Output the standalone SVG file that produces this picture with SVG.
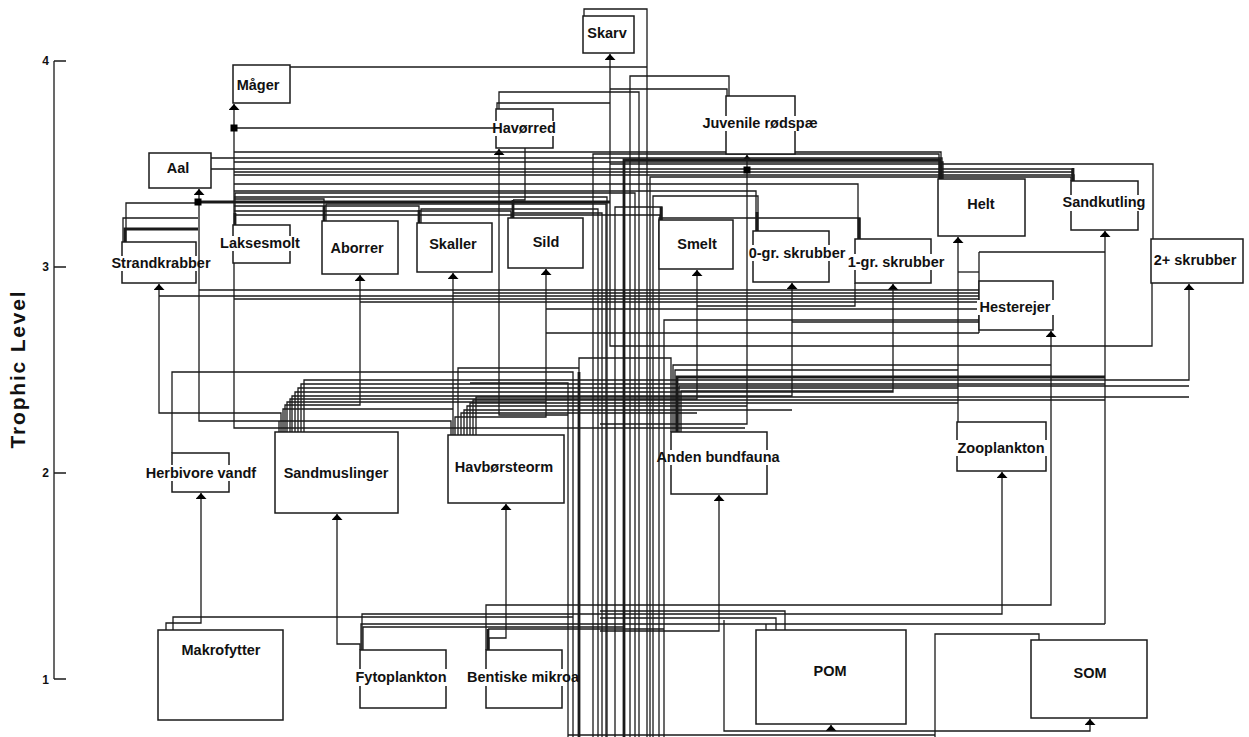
<svg xmlns="http://www.w3.org/2000/svg" width="1249" height="737" viewBox="0 0 1249 737">
<defs>
<style>
.c path{fill:none;stroke:#1a1a1a;stroke-width:1.3}
.c path.t{stroke-width:2.8}
.c path.a{marker-end:url(#ah)}
.n rect.b{fill:#fff;stroke:#1a1a1a;stroke-width:1.5}
.n rect.g{fill:#fff;stroke:none}
.n text{font-family:"Liberation Sans",Arial,sans-serif;font-weight:bold;font-size:14.5px;fill:#111;text-anchor:middle}
.ax path{fill:none;stroke:#1a1a1a;stroke-width:1.3}
.ax text{font-family:"Liberation Sans",Arial,sans-serif;font-weight:bold;fill:#111}
.sq{fill:#000}
</style>
<marker id="ah" markerUnits="userSpaceOnUse" markerWidth="6" markerHeight="11" viewBox="0 0 6 11" refX="6" refY="5.5" orient="auto">
<path d="M0,0 L6,5.5 L0,11 z" fill="#000"/>
</marker>
</defs>
<rect width="1249" height="737" fill="#fff"/>

<g id="axis" class="ax">
<path d="M54 61 V679 M54 61 H66 M54 267 H66 M54 473 H66 M54 679 H66"/>
<text x="49" y="65" font-size="12" text-anchor="end">4</text>
<text x="49" y="271" font-size="12" text-anchor="end">3</text>
<text x="49" y="477" font-size="12" text-anchor="end">2</text>
<text x="49" y="684" font-size="12" text-anchor="end">1</text>
<text transform="translate(25,369) rotate(-90)" font-size="21" letter-spacing="1.8" text-anchor="middle">Trophic Level</text>
</g>

<g id="connectors" class="c">
<!-- predator arrows -->
<path class="a" d="M1152 283 V346 H610 V54"/>
<path class="a" d="M745 428 H234 V104"/>
<path class="a" d="M451 435 V421 H199 V189"/>
<path class="a" d="M568 415 H499 V149"/>
<path class="a" d="M600 424 H747 V155"/>
<path class="a" d="M958 422 V237"/>
<path class="a" d="M1105 624 V231"/>
<path class="a" d="M304 432 V380 H1189 V284"/>
<path class="a" d="M281 432 V413 H159 V284"/>
<path class="a" d="M285 432 V405 H360 V275"/>
<path class="a" d="M453 435 V273"/>
<path class="a" d="M455 435 V417 H546 V269"/>
<path class="a" d="M290 432 V399 H697 V270"/>
<path class="a" d="M292 432 V396 H792 V283"/>
<path class="a" d="M295 432 V392 H893 V284"/>
<path class="a" d="M486 650 V605 H1051 V331"/>
<path class="a" d="M166 630 V623 H201 V493"/>
<path class="a" d="M360 650 V644 H337 V514"/>
<path class="a" d="M489 650 V638 H506 V504"/>
<path class="a" d="M600 631 H719 V495"/>
<path class="a" d="M362 650 V614 H1002 V472"/>
<path class="a" d="M831 731 V725"/>
<path class="a" d="M724 620 V731 H1090 V719"/>
<!-- top links -->
<path d="M584 16 V9 H647 V737"/>
<path d="M290 67 H647"/>
<path d="M234 128 H496"/>
<path d="M497 109 V103 H610"/>
<path d="M499 109 V92 H639 V737"/>
<path d="M727 96 V89 H610"/>
<path d="M729 96 V76 H630 V737"/>
<path d="M525 148 V200 H513"/>
<path class="t" d="M513 200 V218"/>
<path d="M234 152 H941 V179"/>
<path d="M211 158 H942 V179"/>
<path d="M234 162 H943 V179"/>
<path d="M211 169 H1072 V181"/>
<path d="M234 172 H1073 V181"/>
<path d="M234 175 H1074 V181"/>
<path d="M610 164 H1153 V239"/>
<path d="M593 737 V154 H939 V179"/>
<path class="t" d="M624 737 V160 H940 V179"/>
<path d="M1071 181 V177 H650 V737"/>
<path d="M234 184 H858 V239"/>
<path d="M234 191 H756 V231"/>
<path class="t" d="M235 225 V213"/>
<path d="M235 213 V193 H635 V737"/>
<path d="M234 197 H607 V737"/>
<path d="M324 221 V199 H234"/>
<path class="t" d="M324 221 V206"/>
<path class="t" d="M198 202 H610"/>
<path d="M326 221 V204 H606 V737"/>
<path d="M419 223 V206 H234"/>
<path class="t" d="M419 223 V210"/>
<path d="M421 223 V209 H598 V737"/>
<path d="M511 218 V211 H234"/>
<path d="M512 218 V213 H602 V737"/>
<path d="M662 220 V207 H615 V737"/>
<path class="t" d="M661 220 V207"/>
<path d="M660 220 V215 H234"/>
<path d="M758 231 V196 H653 V737"/>
<path class="t" d="M757 231 V212"/>
<path d="M860 239 V218 H659 V737"/>
<path class="t" d="M859 239 V218"/>
<path d="M126 242 V203 H198"/>
<path d="M123 242 V218 H198"/>
<path class="t" d="M125 242 V229 H198"/>
<path class="t" d="M941 179 V162"/>
<path class="t" d="M1073 181 V168"/>
<!-- middle links (Hesterejer) -->
<path d="M979 252 V333"/>
<path d="M979 252 H1105"/>
<path d="M979 272 H958"/>
<path d="M979 290 H199"/>
<path d="M979 293 H453"/>
<path d="M979 296 H159"/>
<path d="M979 299 H234"/>
<path d="M979 302 H360"/>
<path d="M979 309 H546"/>
<path d="M979 322 H792"/>
<path d="M979 333 H546"/>
<path d="M664 737 V320 H979"/>
<path d="M855 283 V306 H697"/>
<!-- lower links (benthos) -->
<path d="M298 432 V388 H958"/>
<path d="M301 432 V384 H1105"/>
<path d="M287 432 V402 H546"/>
<path d="M283 432 V409 H453"/>
<path d="M279 432 V421"/>
<path d="M476 435 V397 H1189"/>
<path d="M473 435 V400 H1105"/>
<path d="M470 435 V403 H958"/>
<path d="M467 435 V406 H747"/>
<path d="M464 435 V410 H792"/>
<path d="M461 435 V413 H697"/>
<path d="M458 435 V368 H579"/>
<path d="M172 453 V372 H573 V737"/>
<path d="M470 383 H568 V737"/>
<path d="M671 432 V358 H579 V372"/>
<path class="t" d="M579 372 V737"/>
<path d="M673 432 V365 H1051"/>
<path d="M675 432 V370 H958"/>
<path class="t" d="M677 432 V377 H1105"/>
<path d="M679 432 V386 H1189"/>
<path d="M681 432 V391 H893"/>
<!-- bottom links -->
<path d="M173 630 V617 H573"/>
<path d="M361 650 V624 H1105"/>
<path d="M766 630 V624"/>
<path d="M363 650 V627 H624"/>
<path d="M776 630 V618 H600"/>
<path d="M785 630 V611 H600"/>
<path class="t" d="M488 650 V629"/>
<path d="M488 629 H664"/>
<path d="M1039 640 V634 H935 V737"/>
<path d="M568 735 H935"/>
<rect class="sq" x="230.5" y="124.5" width="7" height="7"/>
<rect class="sq" x="194.5" y="198.5" width="7" height="7"/>
<rect class="sq" x="743.5" y="166.5" width="7" height="7"/>
</g>

<g class="n">
<g id="skarv"><rect class="b" x="583" y="16" width="51" height="37"/><text x="607" y="38">Skarv</text></g>
<g id="mager"><rect class="b" x="233" y="65" width="57" height="38"/><text x="258" y="90">Måger</text></g>
<g id="aal"><rect class="b" x="149" y="153" width="62" height="35"/><text x="178" y="173">Aal</text></g>
<g id="havorred"><rect class="b" x="496" y="109" width="57" height="39"/><rect class="g" x="494" y="121" width="4" height="15"/><rect class="g" x="551" y="121" width="4" height="15"/><text x="524" y="133">Havørred</text></g>
<g id="juvenile"><rect class="b" x="726" y="96" width="69" height="58"/><rect class="g" x="724" y="116" width="4" height="15"/><rect class="g" x="793" y="116" width="4" height="15"/><text x="760" y="128">Juvenile rødspæ</text></g>
<g id="helt"><rect class="b" x="938" y="179" width="87" height="57"/><text x="981" y="209">Helt</text></g>
<g id="sandkutling"><rect class="b" x="1071" y="181" width="67" height="49"/><rect class="g" x="1069" y="195" width="4" height="16"/><rect class="g" x="1136" y="195" width="4" height="16"/><text x="1104" y="207">Sandkutling</text></g>
<g id="strandkrabber"><rect class="b" x="122" y="242" width="74" height="41"/><rect class="g" x="120" y="256" width="4" height="15"/><rect class="g" x="194" y="256" width="4" height="15"/><text x="161" y="268">Strandkrabber</text></g>
<g id="laksesmolt"><rect class="b" x="233" y="225" width="57" height="38"/><rect class="g" x="231" y="236" width="4" height="15"/><rect class="g" x="288" y="236" width="4" height="15"/><text x="260" y="248">Laksesmolt</text></g>
<g id="aborrer"><rect class="b" x="322" y="221" width="76" height="53"/><text x="357" y="253">Aborrer</text></g>
<g id="skaller"><rect class="b" x="417" y="223" width="75" height="49"/><text x="453" y="249">Skaller</text></g>
<g id="sild"><rect class="b" x="508" y="218" width="75" height="50"/><text x="546" y="247">Sild</text></g>
<g id="smelt"><rect class="b" x="659" y="220" width="74" height="49"/><text x="697" y="249">Smelt</text></g>
<g id="skrubber0"><rect class="b" x="753" y="231" width="76" height="51"/><rect class="g" x="751" y="245" width="4" height="16"/><rect class="g" x="827" y="245" width="4" height="16"/><text x="797" y="258">0-gr. skrubber</text></g>
<g id="skrubber1"><rect class="b" x="855" y="239" width="76" height="44"/><rect class="g" x="853" y="254" width="4" height="16"/><rect class="g" x="929" y="254" width="4" height="16"/><text x="896" y="267">1-gr. skrubber</text></g>
<g id="skrubber2"><rect class="b" x="1151" y="239" width="92" height="44"/><text x="1195" y="265">2+ skrubber</text></g>
<g id="hesterejer"><rect class="b" x="979" y="281" width="74" height="49"/><rect class="g" x="977" y="300" width="4" height="15"/><rect class="g" x="1051" y="300" width="4" height="15"/><text x="1015" y="312">Hesterejer</text></g>
<g id="herbivore"><rect class="b" x="172" y="453" width="57" height="39"/><rect class="g" x="170" y="465" width="4" height="16"/><rect class="g" x="227" y="465" width="4" height="16"/><text x="201" y="478">Herbivore vandf</text></g>
<g id="sandmuslinger"><rect class="b" x="275" y="432" width="123" height="81"/><text x="336" y="478">Sandmuslinger</text></g>
<g id="havborsteorm"><rect class="b" x="448" y="435" width="116" height="68"/><text x="504" y="472">Havbørsteorm</text></g>
<g id="anden"><rect class="b" x="671" y="432" width="96" height="62"/><rect class="g" x="669" y="450" width="4" height="15"/><rect class="g" x="765" y="450" width="4" height="15"/><text x="718" y="462">Anden bundfauna</text></g>
<g id="zooplankton"><rect class="b" x="957" y="422" width="89" height="49"/><rect class="g" x="955" y="440" width="4" height="16"/><rect class="g" x="1044" y="440" width="4" height="16"/><text x="1001" y="453">Zooplankton</text></g>
<g id="makrofytter"><rect class="b" x="158" y="630" width="125" height="90"/><text x="221" y="655">Makrofytter</text></g>
<g id="fytoplankton"><rect class="b" x="360" y="650" width="86" height="58"/><rect class="g" x="358" y="669" width="4" height="17"/><rect class="g" x="444" y="669" width="4" height="17"/><text x="401" y="682">Fytoplankton</text></g>
<g id="bentiske"><rect class="b" x="486" y="650" width="76" height="58"/><rect class="g" x="484" y="669" width="4" height="17"/><rect class="g" x="560" y="669" width="4" height="17"/><text x="523" y="682">Bentiske mikroa</text></g>
<g id="pom"><rect class="b" x="756" y="630" width="150" height="94"/><text x="830" y="676">POM</text></g>
<g id="som"><rect class="b" x="1031" y="640" width="116" height="78"/><text x="1090" y="678">SOM</text></g>
</g>
</svg>
